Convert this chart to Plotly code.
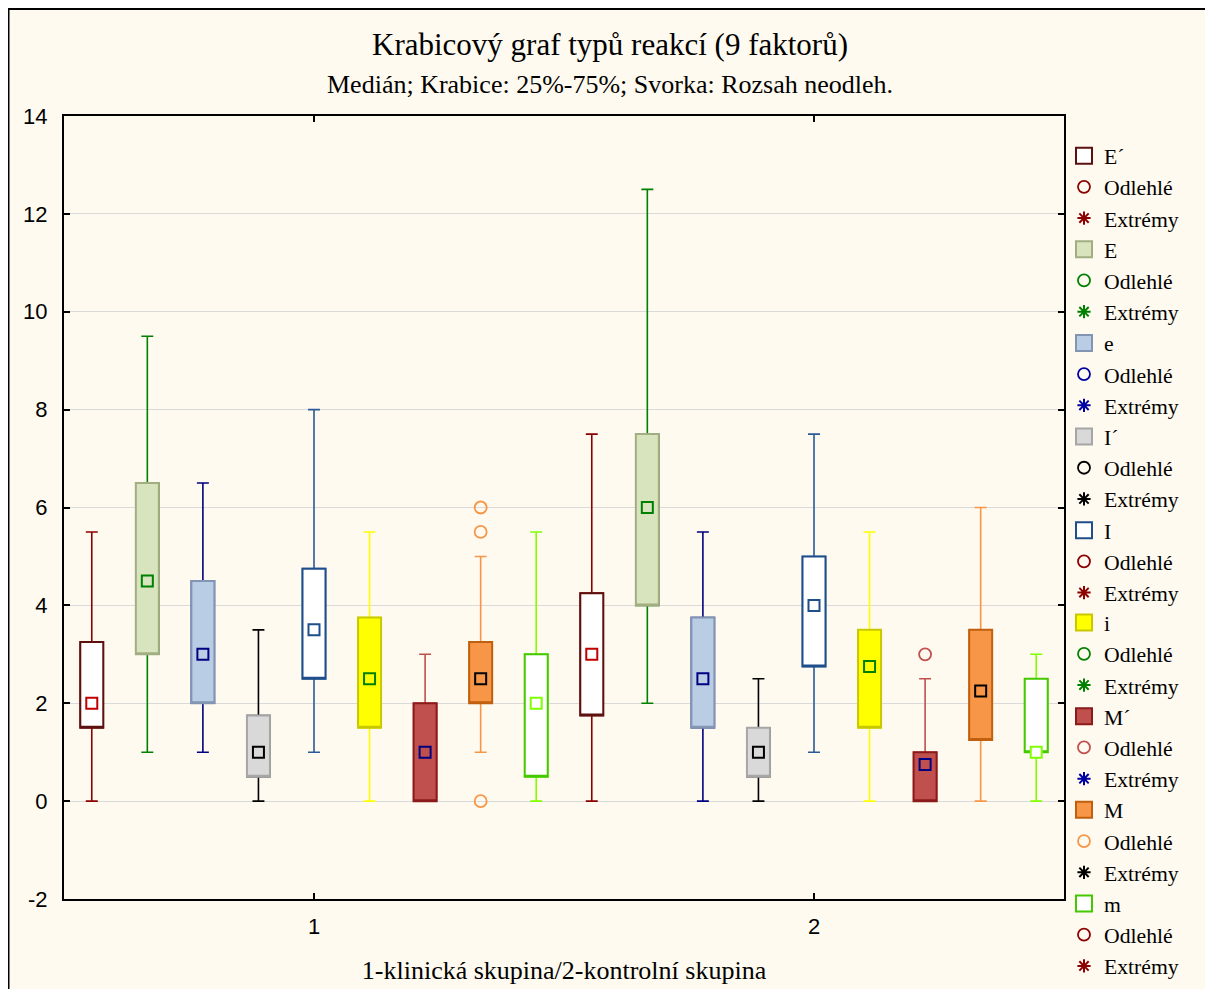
import plotly.graph_objects as go

# ---------------- data ----------------
factors = ["E´", "E", "e", "I´", "I", "i", "M´", "M", "m"]
groups = [1, 2]
group_labels = ["1", "2"]
y_ticks = [-2, 0, 2, 4, 6, 8, 10, 12, 14]
y_tick_labels = ["-2", "0", "2", "4", "6", "8", "10", "12", "14"]

# values per factor: [group 1, group 2]
lower_fence = [[0, 0], [1, 2], [1, 0], [0, 0], [1, 1], [0, 0], [0, 0], [1, 0], [0, 0]]
q1_vals     = [[1.5, 1.75], [3, 4], [2, 1.5], [0.5, 0.5], [2.5, 2.75], [1.5, 1.5], [0, 0], [2, 1.25], [0.5, 1]]
medians     = [[2, 3], [4.5, 6], [3, 2.5], [1, 1], [3.5, 4], [2.5, 2.75], [1, 0.75], [2.5, 2.25], [2, 1]]
q3_vals     = [[3.25, 4.25], [6.5, 7.5], [4.5, 3.75], [1.75, 1.5], [4.75, 5], [3.75, 3.5], [2, 1], [3.25, 3.5], [3, 2.5]]
upper_fence = [[5.5, 7.5], [9.5, 12.5], [6.5, 5.5], [3.5, 2.5], [8, 7.5], [5.5, 5.5], [3, 2.5], [5, 6], [5.5, 3]]

# outliers (Odlehlé)
outlier_factor = ["M", "M", "M", "M´"]
outlier_group = [1, 1, 1, 2]
outlier_value = [6, 5.5, 0, 3]

# ---------------- styles ----------------
box_fill     = ["#FFFFFF", "#D7E4BD", "#B9CDE5", "#D9D9D9", "#FFFFFF", "#FFFF00", "#C0504D", "#F79646", "#FFFFFF"]
box_line     = ["#5C1010", "#A2AD82", "#8296B4", "#A6A6A6", "#1F4E8C", "#C8C800", "#8B1A1A", "#C0600F", "#44C800"]
whisker_col  = ["#8B0000", "#008000", "#000080", "#000000", "#2A5A98", "#FFFF00", "#C0504D", "#F79646", "#80FF00"]
median_line  = ["#C00000", "#008000", "#000080", "#000000", "#1F4E8C", "#008000", "#000080", "#000000", "#80FF00"]
odl_col      = ["#8B0000", "#008000", "#0000A0", "#000000", "#8B0000", "#008000", "#C0504D", "#F79646", "#8B0000"]
ext_col      = ["#8B0000", "#008000", "#0000A0", "#000000", "#8B0000", "#008000", "#0000A0", "#000000", "#8B0000"]

SERIF = "Liberation Serif, Times New Roman, serif"
SANS = "Liberation Sans, Arial, sans-serif"

n = len(factors)


def pos(g, j):
    return g + (j - (n - 1) / 2) / n


fig = go.Figure()

for j, f in enumerate(factors):
    lg = "legend" if j < 5 else "legend2"
    xs = [pos(g, j) for g in groups]
    q1 = [q1_vals[j][k] for k in range(2)]
    q3 = [q3_vals[j][k] for k in range(2)]
    lo = [lower_fence[j][k] for k in range(2)]
    hi = [upper_fence[j][k] for k in range(2)]
    md = [medians[j][k] for k in range(2)]
    # whiskers
    fig.add_trace(go.Box(
        x=xs, q1=q1, median=q1, q3=q3, lowerfence=lo, upperfence=hi,
        width=0.046, whiskerwidth=0.52, fillcolor="rgba(0,0,0,0)",
        line=dict(color=whisker_col[j], width=1.6), boxpoints=False,
        showlegend=False, hoverinfo="skip"))
    # box body
    fig.add_trace(go.Box(
        x=xs, q1=q1, median=q1, q3=q3, lowerfence=q1, upperfence=q3,
        width=0.046, whiskerwidth=0, fillcolor=box_fill[j],
        line=dict(color=box_line[j], width=2), boxpoints=False,
        showlegend=False, name=f))
    # median marker
    fig.add_trace(go.Scatter(
        x=xs, y=md, mode="markers",
        marker=dict(symbol="square", size=11, color=box_fill[j],
                    line=dict(color=median_line[j], width=2)),
        showlegend=False, name=f))
    # legend entries
    fig.add_trace(go.Scatter(
        x=[None], y=[None], mode="markers", name=f, legend=lg,
        marker=dict(symbol="square", size=16, color=box_fill[j],
                    line=dict(color=box_line[j], width=2)),
        legendrank=10 * j + 1))
    ox = [pos(outlier_group[i], j) for i in range(len(outlier_value)) if outlier_factor[i] == f]
    oy = [outlier_value[i] for i in range(len(outlier_value)) if outlier_factor[i] == f]
    fig.add_trace(go.Scatter(
        x=ox if ox else [None], y=oy if oy else [None], mode="markers", name="Odlehlé", legend=lg,
        marker=dict(symbol="circle-open", size=12, color=odl_col[j], line=dict(width=1.8)),
        legendrank=10 * j + 2))
    fig.add_trace(go.Scatter(
        x=[None], y=[None], mode="markers", name="Extrémy", legend=lg,
        marker=dict(symbol="asterisk-open", size=11, color=ext_col[j], line=dict(width=2, color=ext_col[j])),
        legendrank=10 * j + 3))

# outer frame of the chart
fig.add_shape(type="rect", xref="paper", yref="paper",
              x0=-0.0555, x1=1.145, y0=-0.2, y1=1.1365,
              fillcolor="#FFFAEF", line=dict(color="black", width=2), layer="below")

fig.add_annotation(text="Krabicový graf typů reakcí (9 faktorů)", xref="paper", yref="paper",
                   x=0.546, y=1.0907, showarrow=False, xanchor="center", yanchor="middle",
                   font=dict(family=SERIF, size=31, color="black"))
fig.add_annotation(text="Medián; Krabice: 25%-75%; Svorka: Rozsah neodleh.", xref="paper", yref="paper",
                   x=0.546, y=1.040, showarrow=False, xanchor="center", yanchor="middle",
                   font=dict(family=SERIF, size=26, color="black"))

legend_style = dict(x=1.0, xanchor="left", yanchor="top",
                    bgcolor="rgba(0,0,0,0)", borderwidth=0,
                    font=dict(family=SERIF, size=21.7, color="black"),
                    traceorder="normal")

fig.update_layout(
    width=1205, height=981,
    margin=dict(l=56, r=149, t=108, b=90, autoexpand=False),
    paper_bgcolor="white", plot_bgcolor="white",
    boxmode="overlay",
    showlegend=True,
    legend=dict(y=0.9757, **legend_style),
    legend2=dict(y=0.3793, **legend_style),
    xaxis=dict(range=[0.5, 2.5], tickvals=groups, ticktext=group_labels,
               showgrid=False, zeroline=False, automargin=False,
               showline=True, linecolor="black", linewidth=2, mirror="ticks",
               ticks="inside", ticklen=6, tickwidth=1.5, tickcolor="black",
               tickfont=dict(family=SANS, size=22, color="black"),
               ticklabelstandoff=7,
               title=dict(text="1-klinická skupina/2-kontrolní skupina",
                          font=dict(family=SERIF, size=26, color="black"), standoff=22)),
    yaxis=dict(range=[-2, 14], tickvals=y_ticks, ticktext=y_tick_labels,
               showgrid=True, gridcolor="#DADADA", gridwidth=1, zeroline=False,
               automargin=False,
               showline=True, linecolor="black", linewidth=2, mirror="ticks",
               ticks="inside", ticklen=6, tickwidth=1.5, tickcolor="black",
               tickfont=dict(family=SANS, size=22, color="black"),
               ticklabelstandoff=10),
)

fig.write_html("out.html")
